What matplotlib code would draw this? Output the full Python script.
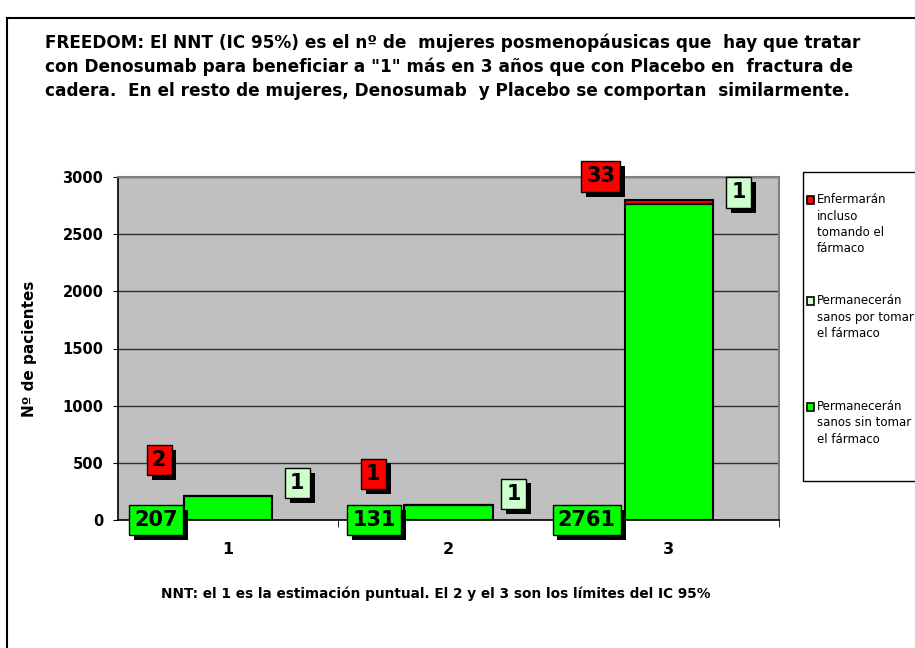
import matplotlib.pyplot as plt
import matplotlib.patheffects as pe
from matplotlib.patches import Rectangle

# ---------- data ----------
categories = ['1', '2', '3']
sanos_sin_farmaco = [207, 131, 2761]   # green
sanos_por_farmaco = [1, 1, 1]          # pale
enfermaran = [2, 1, 33]                # red

series_names = ['Enfermarán\nincluso\ntomando el\nfármaco',
                'Permanecerán\nsanos por tomar\nel fármaco',
                'Permanecerán\nsanos sin tomar\nel fármaco']
yticks = [0, 500, 1000, 1500, 2000, 2500, 3000]

GREEN = '#00FF00'
PALE = '#CCFFCC'
RED = '#FF0000'

# label box offsets (pixels) from bar corners: styling only
red_off = [(-25, 36), (-31, 31), (-24, 24)]
pale_off = [(25, 13), (21, 11), (26, 8)]
green_off = [(-28, 0), (-30, 0), (-38, 0)]

fig = plt.figure(figsize=(9.15, 6.48), dpi=100)
fig.patch.set_facecolor('white')

# outer frame
fig.add_artist(Rectangle((7 / 915, -0.05), 1.0, 1 - 18 / 648 + 0.05,
                         transform=fig.transFigure, fill=False,
                         edgecolor='black', linewidth=1.5))

fig.text(45 / 915, 1 - 33 / 648,
         'FREEDOM: El NNT (IC 95%) es el nº de  mujeres posmenopáusicas que  hay que tratar\n'
         'con Denosumab para beneficiar a "1" más en 3 años que con Placebo en  fractura de\n'
         'cadera.  En el resto de mujeres, Denosumab  y Placebo se comportan  similarmente.',
         ha='left', va='top', fontsize=12.2, fontweight='bold', linespacing=1.42)

ax = fig.add_axes([118 / 915, 128 / 648, 661 / 915, 343 / 648])
ax.set_facecolor('#C0C0C0')

x = list(range(len(categories)))
w = 0.4
b1 = sanos_sin_farmaco
b2 = [a + b for a, b in zip(sanos_sin_farmaco, sanos_por_farmaco)]
tops = [a + b for a, b in zip(b2, enfermaran)]

ax.bar(x, sanos_sin_farmaco, w, color=GREEN, edgecolor='black', linewidth=1.5, zorder=3)
ax.bar(x, sanos_por_farmaco, w, bottom=b1, color=PALE, edgecolor='black', linewidth=1.5, zorder=3)
ax.bar(x, enfermaran, w, bottom=b2, color=RED, edgecolor='black', linewidth=1.5, zorder=3)

ax.set_xlim(-0.5, len(categories) - 0.5)
ax.set_ylim(0, 3000)
ax.set_yticks(yticks)
ax.set_yticklabels([str(t) for t in yticks], fontsize=10.5, fontweight='bold')
ax.set_xticks(x)
ax.set_xticklabels(categories, fontsize=11.5, fontweight='bold')
ax.tick_params(axis='x', length=0, pad=16)
ax.set_xticks([i + 0.5 for i in x], minor=True)
ax.tick_params(axis='x', which='minor', length=5, direction='out', color='black')
ax.tick_params(axis='y', length=3.6, direction='out', pad=7)
ax.grid(axis='y', color='#303030', linewidth=1.0, zorder=1)
for s in ['top', 'right']:
    ax.spines[s].set_color('#808080')
    ax.spines[s].set_linewidth(1.5)
for s in ['left', 'bottom']:
    ax.spines[s].set_color('black')
    ax.spines[s].set_linewidth(1.2)
ax.set_ylabel('Nº de pacientes', fontsize=11, fontweight='bold', labelpad=18)


def box_label(xy, off, text, face):
    t = ax.annotate(text, xy=xy, xytext=off, textcoords='offset pixels',
                    ha='center', va='center', fontsize=15, fontweight='bold',
                    annotation_clip=False, zorder=6,
                    bbox=dict(boxstyle='square,pad=0.25', facecolor=face,
                              edgecolor='black', linewidth=1.0))
    t.get_bbox_patch().set_path_effects(
        [pe.SimplePatchShadow(offset=(3.5, -3.5), shadow_rgbFace='black', alpha=1.0),
         pe.Normal()])
    return t


for i in x:
    left = i - w / 2
    right = i + w / 2
    box_label((left, 0), green_off[i], str(sanos_sin_farmaco[i]), GREEN)
    box_label((left, tops[i]), red_off[i], str(enfermaran[i]), RED)
    box_label((right, tops[i]), pale_off[i], str(sanos_por_farmaco[i]), PALE)

# legend box
lx0, ly0, lx1, ly1 = 803, 172, 930, 481
fig.add_artist(Rectangle((lx0 / 915, 1 - ly1 / 648), (lx1 - lx0) / 915, (ly1 - ly0) / 648,
                         transform=fig.transFigure, facecolor='white',
                         edgecolor='black', linewidth=1.0))
entries = [(series_names[0], RED, 193), (series_names[1], PALE, 294), (series_names[2], GREEN, 400)]
for name, col, ytop in entries:
    fig.add_artist(Rectangle((807 / 915, 1 - (ytop + 11) / 648), 7 / 915, 8 / 648,
                             transform=fig.transFigure, facecolor=col,
                             edgecolor='black', linewidth=1.2))
    fig.text(817 / 915, 1 - ytop / 648, name, ha='left', va='top',
             fontsize=8.5, linespacing=1.35)

fig.text(436 / 915, 1 - 594 / 648,
         'NNT: el 1 es la estimación puntual. El 2 y el 3 son los límites del IC 95%',
         ha='center', va='center', fontsize=9.8, fontweight='semibold')

fig.savefig('out.png', dpi=100)
